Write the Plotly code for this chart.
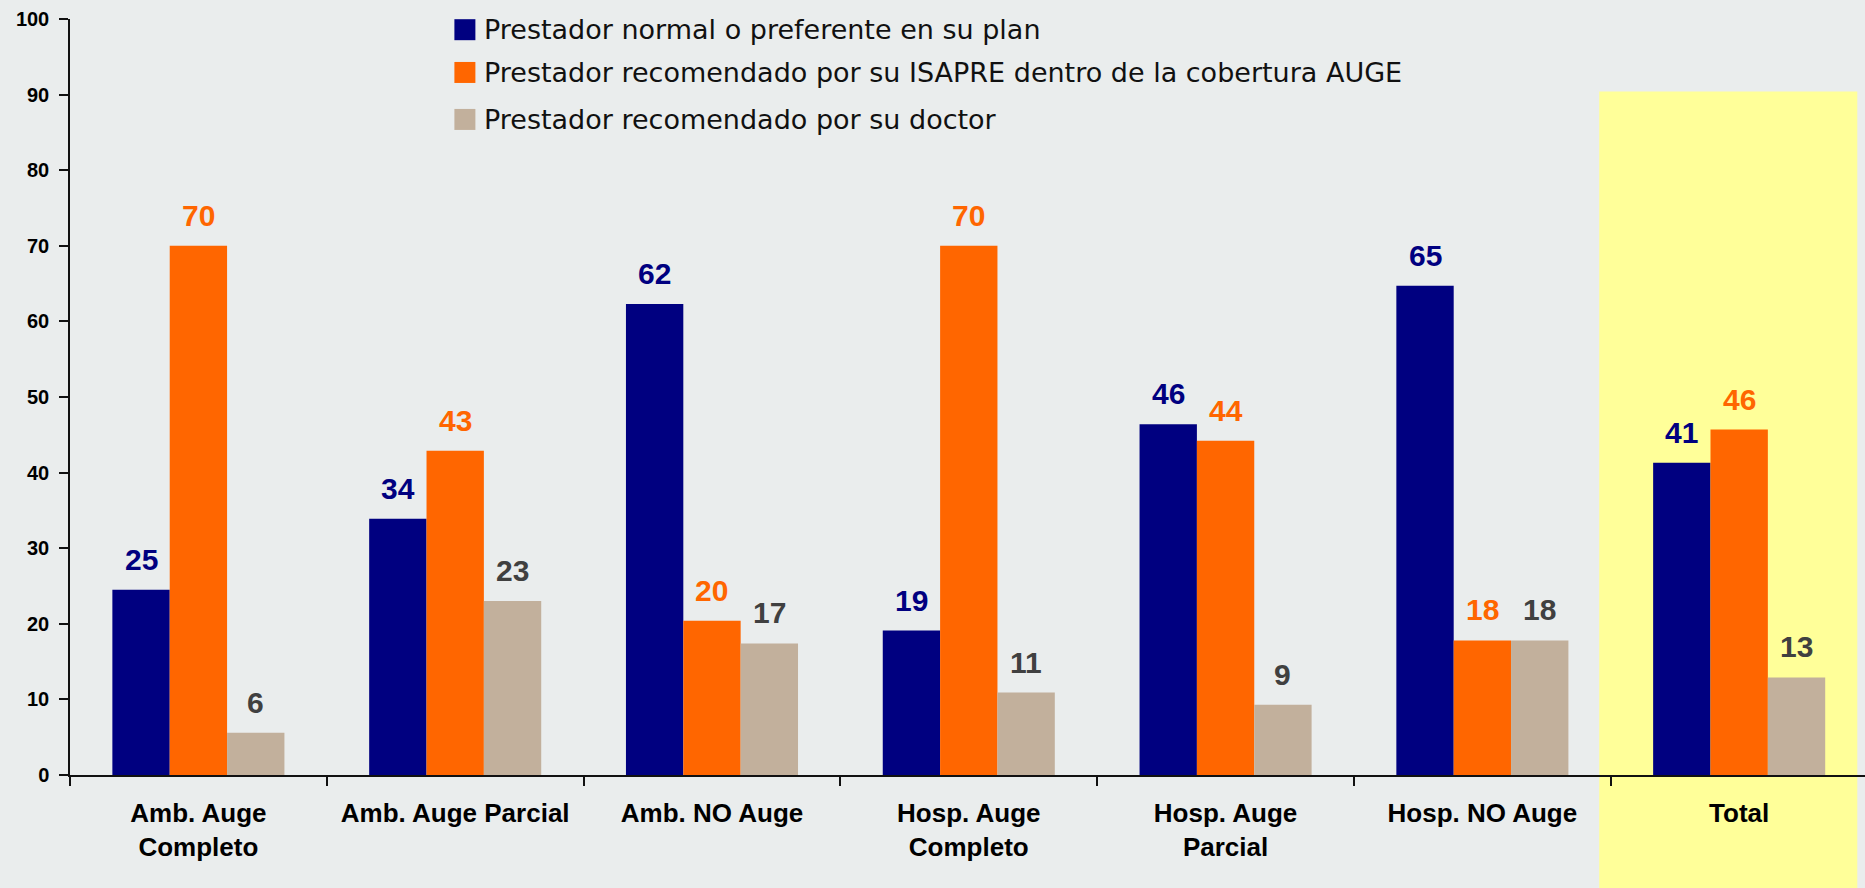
import plotly.graph_objects as go

categories = ["Amb. Auge<br>Completo", "Amb. Auge Parcial", "Amb. NO Auge",
              "Hosp. Auge<br>Completo", "Hosp. Auge<br>Parcial", "Hosp. NO Auge", "Total"]
series_names = ["Prestador normal o preferente en su plan",
                "Prestador recomendado por su ISAPRE dentro de la cobertura AUGE",
                "Prestador recomendado por su doctor"]
normal_vals = [24.5, 33.9, 62.3, 19.1, 46.4, 64.7, 41.3]
isapre_vals = [70.0, 42.9, 20.4, 70.0, 44.2, 17.8, 45.7]
doctor_vals = [5.6, 23.0, 17.4, 10.9, 9.3, 17.8, 12.9]
normal_labels = ["25", "34", "62", "19", "46", "65", "41"]
isapre_labels = ["70", "43", "20", "70", "44", "18", "46"]
doctor_labels = ["6", "23", "17", "11", "9", "18", "13"]
y_ticks = [0, 10, 20, 30, 40, 50, 60, 70, 80, 90, 100]

bar_colors = ["#000080", "#FF6600", "#C2B09C"]
label_colors = ["#000080", "#FF6600", "#404040"]
bg = "#EAEDED"

W, H = 1865, 888
ML, MR, MT, MB = 69.5, 0, 19, 112.5
BARGAP = 0.33
XR = [-0.5, 6.49]

fig = go.Figure()
all_vals = [normal_vals, isapre_vals, doctor_vals]
all_labels = [normal_labels, isapre_labels, doctor_labels]
for name, vals, col in zip(series_names, all_vals, bar_colors):
    fig.add_trace(go.Bar(x=categories, y=vals, name=name, marker_color=col,
                         marker_line_width=0, showlegend=False, hoverinfo="skip"))

# data labels
bw = (1 - BARGAP) / 3
ann = []
for i, (vals, labs, lc) in enumerate(zip(all_vals, all_labels, label_colors)):
    off = (i - 1) * bw
    for j, (v, t) in enumerate(zip(vals, labs)):
        ann.append(dict(x=j + off, y=v, xref="x", yref="y", text=t, showarrow=False,
                        yanchor="bottom", xanchor="center", yshift=12,
                        font=dict(family="Liberation Sans", size=30, color=lc, weight="bold")))

# legend (custom)
plot_h = H - MT - MB
leg_rows_px = [29.7, 72.5, 119.5]
for name, col, ypx in zip(series_names, bar_colors, leg_rows_px):
    yp = (H - MB - ypx) / plot_h
    xp = (464.5 - ML) / (W - ML - MR)
    fig.add_shape(type="rect", xref="paper", yref="paper", xsizemode="pixel", ysizemode="pixel",
                  xanchor=xp, yanchor=yp, x0=-10.5, x1=10.5, y0=-10.5, y1=10.5,
                  fillcolor=col, line_width=0)
    ann.append(dict(x=(482 - ML) / (W - ML - MR), y=yp, xref="paper", yref="paper", text=name,
                    showarrow=False, xanchor="left", yanchor="middle",
                    font=dict(family="DejaVu Sans", size=27, color="#111111")))

# highlight for "Total"
unit = (W - ML - MR) / (XR[1] - XR[0])
idx_total = len(categories) - 1
x_left = ((idx_total - 0.545) - XR[0]) * unit / (W - ML - MR)
x_right = ((idx_total + 0.46) - XR[0]) * unit / (W - ML - MR)
fig.add_shape(type="rect", xref="paper", yref="paper", x0=x_left, x1=x_right,
              y0=-MB / plot_h - 0.01, y1=(H - MB - 91.5) / plot_h,
              fillcolor="#FFFF99", line_width=0, layer="below")

fig.update_layout(
    width=W, height=H,
    margin=dict(l=ML, r=MR, t=MT, b=MB, pad=0, autoexpand=False),
    paper_bgcolor=bg, plot_bgcolor="rgba(0,0,0,0)",
    barmode="group", bargap=BARGAP, bargroupgap=0,
    annotations=ann,
    showlegend=False,
    xaxis=dict(type="category", range=XR, tickson="boundaries", ticks="outside", ticklen=9,
               tickwidth=1.5, tickcolor="#111", showline=True, linecolor="#111", linewidth=2,
               showgrid=False, ticklabelstandoff=14,
               tickfont=dict(family="Liberation Sans", size=26, color="#000", weight="bold")),
    yaxis=dict(range=[0, 100], tickvals=y_ticks, ticks="outside", ticklen=9, tickwidth=1.5,
               tickcolor="#111", showline=True, linecolor="#111", linewidth=1.5,
               showgrid=False, zeroline=False, ticklabelstandoff=6,
               tickfont=dict(family="Liberation Sans", size=20, color="#000", weight="bold")),
)

fig.write_html("out.html", config={"displayModeBar": False},
               post_script="document.body.style.margin='0';document.body.style.overflow='hidden';")
